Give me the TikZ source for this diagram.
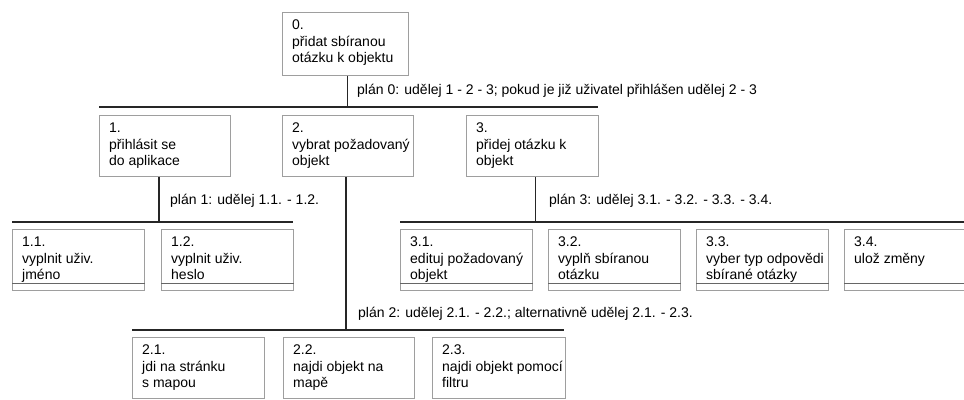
\documentclass[tikz,border=0pt]{standalone}
\usepackage{fontspec}
\setmainfont{Liberation Sans}

\tikzset{
  taskbox/.style={draw=black!38, line width=0.8pt, anchor=north west, inner sep=0pt,
    minimum width=132, minimum height=61},
  tasktext/.style={anchor=north west, align=left, inner sep=0pt, xshift=10, yshift=-8,
    font=\fontsize{14}{16.5}\selectfont},
  plantext/.style={anchor=west, inner sep=0pt, font=\fontsize{14}{16.5}\selectfont},
  bar/.style={line width=1.2pt, black!85},
  leafline/.style={line width=1.3pt, black!60}
}

\begin{document}
\begin{tikzpicture}[x=1pt,y=-1pt]
\clip (0,0) rectangle (964,399);

% level 0
\node[taskbox, minimum width=126, minimum height=63] (b0) at (282,12) {};
\node[tasktext] (t0) at (b0.north west) {0.\\přidat sbíranou\\otázku k objektu};

% level 1
\node[taskbox, minimum width=131] (b1) at (99,115) {};
\node[tasktext] (t1) at (b1.north west) {1.\\přihlásit se\\do aplikace};
\node[taskbox, minimum width=131] (b2) at (282,115) {};
\node[tasktext] (t2) at (b2.north west) {2.\\vybrat požadovaný\\objekt};
\node[taskbox] (b3) at (466,115) {};
\node[tasktext] (t3) at (b3.north west) {3.\\přidej otázku k\\objekt};

% level 2 under 1
\node[taskbox] (b11) at (12,229) {};
\node[tasktext] (t11) at (b11.north west) {1.1.\\vyplnit uživ.\\jméno};
\node[taskbox] (b12) at (161,229) {};
\node[tasktext] (t12) at (b12.north west) {1.2.\\vyplnit uživ.\\heslo};

% level 2 under 3
\node[taskbox] (b31) at (400,229) {};
\node[tasktext] (t31) at (b31.north west) {3.1.\\edituj požadovaný\\objekt};
\node[taskbox] (b32) at (548,229) {};
\node[tasktext] (t32) at (b32.north west) {3.2.\\vyplň sbíranou\\otázku};
\node[taskbox] (b33) at (696,229) {};
\node[tasktext] (t33) at (b33.north west) {3.3.\\vyber typ odpovědi\\sbírané otázky};
\node[taskbox] (b34) at (844,229) {};
\node[tasktext] (t34) at (b34.north west) {3.4.\\ulož změny};

% level 2 under 2
\node[taskbox] (b21) at (132,337) {};
\node[tasktext] (t21) at (b21.north west) {2.1.\\jdi na stránku\\s mapou};
\node[taskbox, minimum width=131] (b22) at (283,337) {};
\node[tasktext] (t22) at (b22.north west) {2.2.\\najdi objekt na\\mapě};
\node[taskbox, minimum width=133] (b23) at (432,337) {};
\node[tasktext] (t23) at (b23.north west) {2.3.\\najdi objekt pomocí\\filtru};

% plans
\coordinate (bar0w) at (99,107);
\coordinate (bar0e) at (598,107);
\draw[bar] (bar0w) -- (bar0e);
\draw[bar] ([xshift=2]b0.south) -- ([xshift=2]b0.south |- bar0w);
\node[plantext] (p0) at (357,91) {plán 0: udělej 1 - 2 - 3; pokud je již uživatel přihlášen udělej 2 - 3};

\coordinate (bar1w) at (12,222);
\coordinate (bar1e) at (293,222);
\draw[bar] (bar1w) -- (bar1e);
\draw[bar] ([xshift=-6]b1.south) -- ([xshift=-6]b1.south |- bar1w);
\node[plantext] (p1) at (170,201) {plán 1: udělej 1.1. - 1.2.};

\coordinate (bar3w) at (400,222);
\coordinate (bar3e) at (964,222);
\draw[bar] (bar3w) -- (bar3e);
\draw[bar] ([xshift=3]b3.south) -- ([xshift=3]b3.south |- bar3w);
\node[plantext] (p3) at (549,201) {plán 3: udělej 3.1. - 3.2. - 3.3. - 3.4.};

\coordinate (bar2w) at (132,330);
\coordinate (bar2e) at (564,330);
\draw[bar] (bar2w) -- (bar2e);
\draw[bar] ([xshift=-2]b2.south) -- ([xshift=-2]b2.south |- bar2w);
\node[plantext] (p2) at (358,314) {plán 2: udělej 2.1. - 2.2.; alternativně udělej 2.1. - 2.3.};

% leaf underlines
\draw[leafline] ([yshift=7]b11.south west) -- ([yshift=7]b11.south east);
\draw[leafline] ([yshift=7]b12.south west) -- ([yshift=7]b12.south east);
\draw[leafline] ([yshift=7]b31.south west) -- ([yshift=7]b31.south east);
\draw[leafline] ([yshift=7]b32.south west) -- ([yshift=7]b32.south east);
\draw[leafline] ([yshift=7]b33.south west) -- ([yshift=7]b33.south east);
\draw[leafline] ([yshift=7]b34.south west) -- ([yshift=7]b34.south east);
\end{tikzpicture}
\end{document}
